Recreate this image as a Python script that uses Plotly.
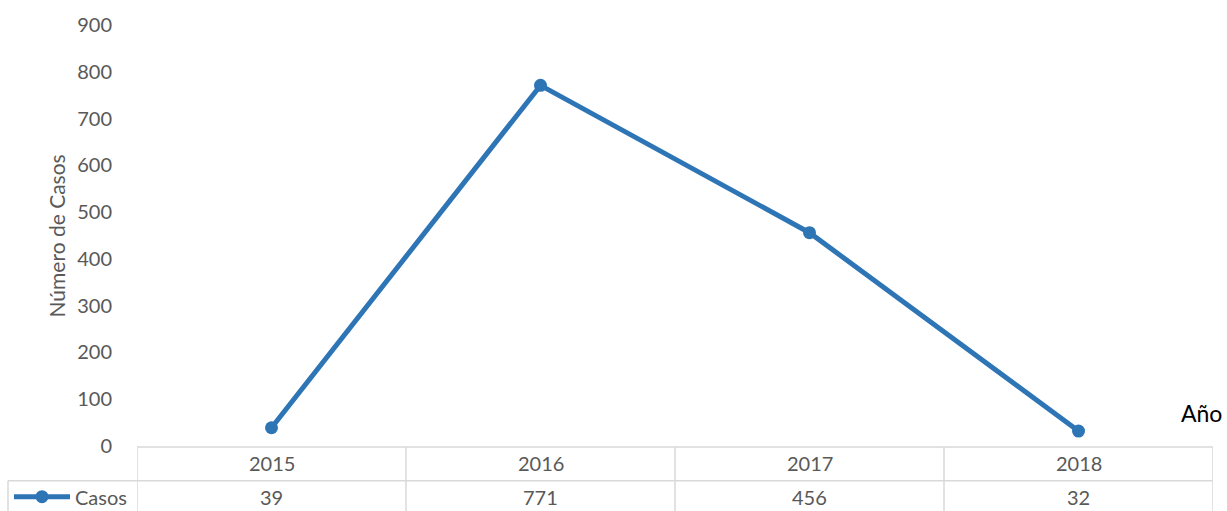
import plotly.graph_objects as go

years = ["2015", "2016", "2017", "2018"]
casos = [39, 771, 456, 32]
series_name = "Casos"
y_ticks = [0, 100, 200, 300, 400, 500, 600, 700, 800, 900]
y_title = "Número de Casos"
x_title = "Año"

W, H = 1227, 511
L, R, T, B = 137, 14, 22, 65
pw, ph = W - L - R, H - T - B

def px_x(p):
    return (p - L) / pw

def px_y(p):
    return (H - B - p) / ph

BLUE = "#2E75B6"
TXT = "#595959"
GRID = "#D9D9D9"
FONT = "Lato"
FS = 20

xs = list(range(len(years)))

fig = go.Figure()
fig.add_trace(go.Scatter(
    x=xs, y=casos, mode="lines+markers", name=series_name,
    line=dict(color=BLUE, width=5),
    marker=dict(color=BLUE, size=13),
    showlegend=False, cliponaxis=False,
))

shapes = []
y_top = px_y(447)
y_mid = px_y(481)
y_bot = px_y(512)
shapes.append(dict(type="line", xref="x", yref="paper", x0=-0.5, x1=len(years) - 0.5,
                   y0=y_top, y1=y_top, line=dict(color=GRID, width=1.5)))
shapes.append(dict(type="line", xref="paper", yref="paper", x0=px_x(8), x1=1.0,
                   y0=y_mid, y1=y_mid, line=dict(color=GRID, width=1.5)))
for i in range(len(years) + 1):
    xv = i - 0.5
    shapes.append(dict(type="line", xref="x", yref="paper", x0=xv, x1=xv,
                       y0=y_top, y1=y_bot, line=dict(color=GRID, width=1.5)))
shapes.append(dict(type="line", xref="paper", yref="paper", x0=px_x(8), x1=px_x(8),
                   y0=y_mid, y1=y_bot, line=dict(color=GRID, width=1.5)))
# legend key
shapes.append(dict(type="line", xref="paper", yref="paper", x0=px_x(14), x1=px_x(70),
                   y0=px_y(497), y1=px_y(497), line=dict(color=BLUE, width=5)))
shapes.append(dict(type="circle", xref="paper", yref="paper", xsizemode="pixel", ysizemode="pixel",
                   xanchor=px_x(42), yanchor=px_y(497), x0=-6.5, x1=6.5, y0=-6.5, y1=6.5,
                   fillcolor=BLUE, line=dict(color=BLUE, width=0)))

def ann(x, y, text, xref="paper", xanchor="center", size=FS, color=TXT, angle=0):
    return dict(x=x, y=y, xref=xref, yref="paper", text=text, xanchor=xanchor, yanchor="middle",
                textangle=angle, showarrow=False, font=dict(size=size, color=color, family=FONT))

annotations = []
for i, (yr, v) in enumerate(zip(years, casos)):
    annotations.append(ann(i, px_y(463), yr, xref="x"))
    annotations.append(ann(i, px_y(497), str(v), xref="x"))
annotations.append(ann(px_x(73), px_y(497), series_name, xanchor="left"))
annotations.append(ann(px_x(56), px_y(235), y_title, size=21, angle=-90))
annotations.append(ann(px_x(1224), px_y(413), x_title, xanchor="right", size=23, color="#000000"))

fig.update_layout(
    width=W, height=H,
    margin=dict(l=L, r=R, t=T, b=B),
    paper_bgcolor="white", plot_bgcolor="white",
    xaxis=dict(range=[-0.5, len(years) - 0.5], showticklabels=False, showgrid=False,
               zeroline=False, showline=False, fixedrange=True),
    yaxis=dict(range=[0, 900], tickvals=y_ticks, showgrid=False, zeroline=False,
               showline=False, ticklabelstandoff=24,
               tickfont=dict(size=FS, color=TXT, family=FONT)),
    shapes=shapes,
    annotations=annotations,
    showlegend=False,
)

fig.write_html("out.html", config={"displayModeBar": False},
               post_script="document.body.style.margin='0';document.body.style.overflow='hidden';")
